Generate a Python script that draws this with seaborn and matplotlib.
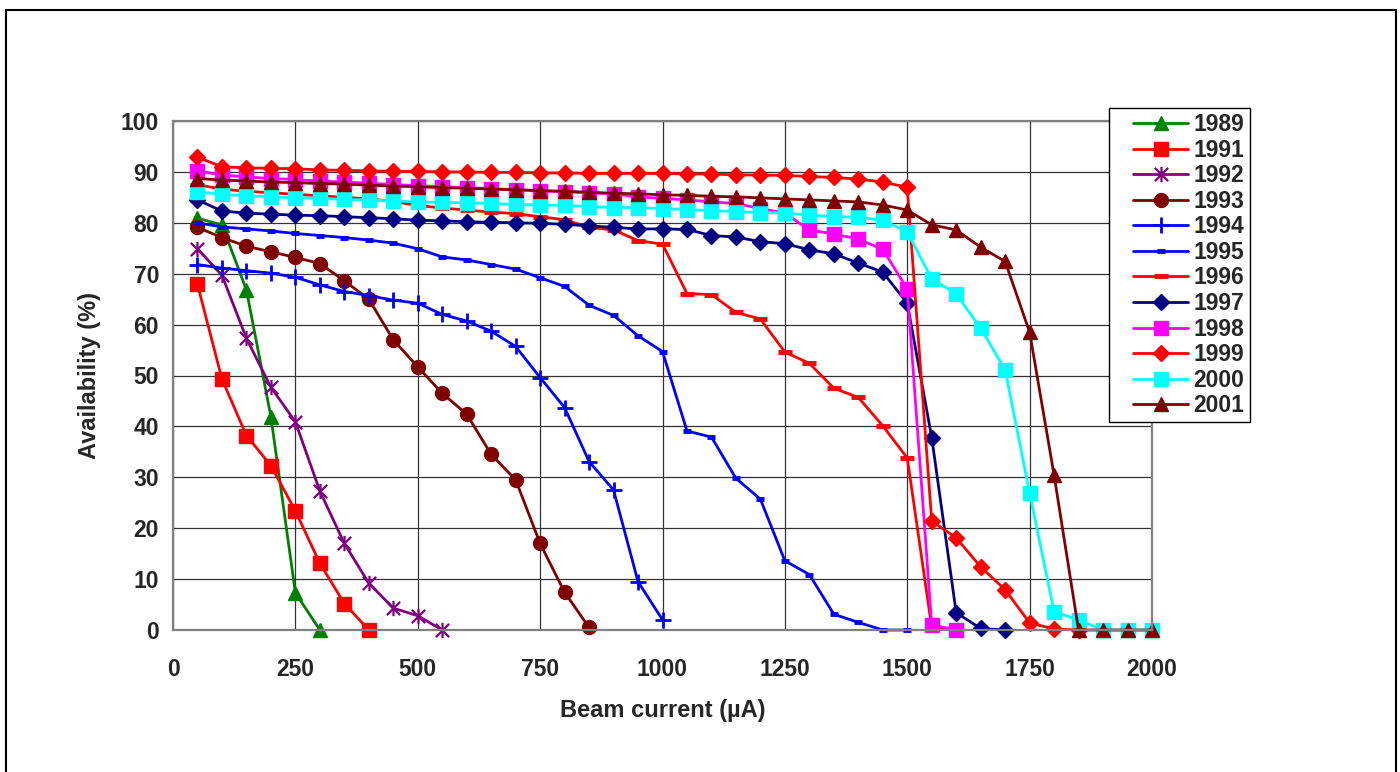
import matplotlib
matplotlib.use("Agg")
import matplotlib.pyplot as plt
from matplotlib.path import Path
from matplotlib.patches import Rectangle
import seaborn as sns
import pandas as pd

# ---------------- data ----------------
beam_current = [50, 100, 150, 200, 250, 300, 350, 400, 450, 500,
                550, 600, 650, 700, 750, 800, 850, 900, 950, 1000,
                1050, 1100, 1150, 1200, 1250, 1300, 1350, 1400, 1450, 1500,
                1550, 1600, 1650, 1700, 1750, 1800, 1850, 1900, 1950, 2000]

years = ["1989", "1991", "1992", "1993", "1994", "1995",
         "1996", "1997", "1998", "1999", "2000", "2001"]

avail_1989 = [80.9, 79.6, 66.8, 41.9, 7.3, 0.0]
avail_1991 = [67.9, 49.3, 38.2, 32.3, 23.4, 13.1, 5.2, 0.0]
avail_1992 = [74.9, 69.7, 57.3, 47.7, 40.9, 27.3, 17.0, 9.2, 4.3, 2.8, 0.0]
avail_1993 = [79.1, 77.1, 75.4, 74.3, 73.2, 72.0, 68.6, 65.0, 57.0, 51.7,
              46.5, 42.4, 34.5, 29.5, 17.0, 7.4, 0.5]
avail_1994 = [71.8, 71.1, 70.6, 70.1, 69.3, 67.8, 66.5, 65.7, 64.8, 64.2,
              62.0, 60.7, 58.7, 55.7, 49.6, 43.7, 33.1, 27.5, 9.5, 2.0]
avail_1995 = [80.0, 79.2, 78.8, 78.4, 77.9, 77.5, 77.1, 76.6, 76.0, 74.9,
              73.3, 72.7, 71.8, 70.9, 69.2, 67.5, 63.8, 61.8, 57.8, 54.7,
              39.1, 37.9, 29.8, 25.7, 13.6, 10.9, 3.1, 1.5, 0.0, 0.0]
avail_1996 = [87.5, 86.6, 86.2, 85.9, 85.6, 85.3, 85.0, 84.7, 84.2, 83.4,
              82.9, 82.5, 82.1, 81.8, 81.2, 80.6, 79.1, 78.6, 76.5, 75.8,
              66.1, 65.9, 62.4, 61.1, 54.6, 52.4, 47.5, 45.7, 40.1, 33.8,
              0.5, 0.0]
avail_1997 = [84.5, 82.3, 81.9, 81.7, 81.5, 81.4, 81.2, 81.0, 80.8, 80.5,
              80.4, 80.2, 80.1, 80.0, 79.9, 79.7, 79.4, 79.1, 78.8, 78.8,
              78.7, 77.5, 77.2, 76.3, 75.9, 74.7, 73.9, 72.1, 70.3, 64.2,
              37.8, 3.4, 0.3, 0.0]
avail_1998 = [90.2, 89.4, 89.0, 88.7, 88.5, 88.2, 88.0, 87.8, 87.5, 87.3,
              87.1, 86.9, 86.7, 86.5, 86.3, 86.1, 85.9, 85.7, 85.1, 84.8,
              84.5, 84.1, 83.8, 82.8, 81.9, 78.6, 77.8, 76.8, 74.8, 67.0,
              1.0, 0.0]
avail_1999 = [92.9, 91.0, 90.8, 90.7, 90.6, 90.4, 90.3, 90.2, 90.1, 90.1,
              90.0, 90.0, 89.9, 89.9, 89.8, 89.8, 89.7, 89.7, 89.7, 89.7,
              89.6, 89.6, 89.4, 89.4, 89.3, 89.1, 88.9, 88.6, 88.0, 87.0,
              21.4, 18.1, 12.4, 7.9, 1.4, 0.2, 0.0]
avail_2000 = [86.1, 85.6, 85.3, 85.1, 84.9, 84.8, 84.6, 84.5, 84.3, 84.1,
              84.0, 83.9, 83.8, 83.6, 83.5, 83.4, 83.2, 83.0, 83.0, 82.8,
              82.6, 82.4, 82.2, 82.0, 81.9, 81.5, 81.2, 81.1, 80.5, 78.2,
              69.0, 66.0, 59.3, 51.1, 26.9, 3.6, 2.0, 0.0, 0.0, 0.0]
avail_2001 = [88.7, 88.4, 88.2, 88.0, 87.9, 87.7, 87.6, 87.4, 87.2, 87.1,
              86.9, 86.8, 86.6, 86.5, 86.3, 86.2, 86.0, 85.8, 85.7, 85.5,
              85.4, 85.2, 85.1, 84.9, 84.7, 84.5, 84.3, 84.1, 83.5, 82.5,
              79.6, 78.6, 75.2, 72.4, 58.5, 30.4, 0.0, 0.0, 0.0, 0.0]

x_ticks = [0, 250, 500, 750, 1000, 1250, 1500, 1750, 2000]
y_ticks = [0, 10, 20, 30, 40, 50, 60, 70, 80, 90, 100]

series = [avail_1989, avail_1991, avail_1992, avail_1993, avail_1994, avail_1995,
          avail_1996, avail_1997, avail_1998, avail_1999, avail_2000, avail_2001]

rows = []
for yr, vals in zip(years, series):
    for xv, yv in zip(beam_current, vals):
        rows.append({"Year": yr, "Beam current": xv, "Availability": yv})
df = pd.DataFrame(rows)

# ---------------- styles ----------------
star = Path([[-1, -1], [1, 1], [-1, 1], [1, -1], [0, -1.15], [0, 1.15]],
            [Path.MOVETO, Path.LINETO, Path.MOVETO, Path.LINETO, Path.MOVETO, Path.LINETO])

styles = {
    "1989": dict(color="#008000", marker="^", ms=10.5, mew=1),
    "1991": dict(color="#FF0000", marker="s", ms=10, mew=1),
    "1992": dict(color="#800080", marker=star, ms=11, mew=1.6),
    "1993": dict(color="#800000", marker="o", ms=10, mew=1),
    "1994": dict(color="#0000FF", marker="+", ms=12, mew=2),
    "1995": dict(color="#0000FF", marker="_", ms=6, mew=3.5),
    "1996": dict(color="#FF0000", marker="_", ms=9.5, mew=3.5),
    "1997": dict(color="#000080", marker="D", ms=8, mew=1),
    "1998": dict(color="#FF00FF", marker="s", ms=10, mew=1),
    "1999": dict(color="#FF0000", marker="D", ms=8.5, mew=1),
    "2000": dict(color="#00FFFF", marker="s", ms=10, mew=1),
    "2001": dict(color="#800000", marker="^", ms=10.5, mew=1),
}

sns.set_style("white")
plt.rcParams["font.family"] = ["Liberation Sans", "DejaVu Sans"]
plt.rcParams["font.weight"] = "bold"

W, H = 1400, 772
fig = plt.figure(figsize=(W / 100, H / 100), dpi=100)
fig.patch.set_facecolor("white")
ax = fig.add_axes([173 / W, 1 - 630 / H, (1152 - 173) / W, (630 - 121) / H])

for yr in years:
    st = styles[yr]
    sub = df[df["Year"] == yr]
    sns.lineplot(data=sub, x="Beam current", y="Availability", ax=ax,
                 color=st["color"], marker=st["marker"], markersize=st["ms"],
                 markeredgewidth=st["mew"], markeredgecolor=st["color"],
                 markerfacecolor=st["color"], linewidth=2, label=yr,
                 estimator=None, clip_on=False)

ax.set_xlim(0, 2000)
ax.set_ylim(0, 100)
ax.set_xticks(x_ticks)
ax.set_yticks(y_ticks)
ax.grid(True, color="#333333", linewidth=0.9)
ax.set_axisbelow(True)
for sp in ax.spines.values():
    sp.set_visible(True)
    sp.set_color("#808080")
    sp.set_linewidth(1.6)

ax.tick_params(axis="both", which="major", direction="out", length=5, width=1,
               color="black", labelsize=16.5)
ax.tick_params(axis="x", pad=15)
ax.tick_params(axis="y", pad=5)
for lab in ax.get_xticklabels() + ax.get_yticklabels():
    lab.set_fontweight("bold")

ax.set_xlabel("Beam current (µA)", fontsize=17, fontweight="bold")
ax.set_ylabel("Availability (%)", fontsize=17, fontweight="bold")
ax.xaxis.set_label_coords(0.5, (630 - 699) / 509)
ax.yaxis.set_label_coords((101 - 173) / 979, 0.5)

handles, labels = ax.get_legend_handles_labels()
if ax.get_legend() is not None:
    ax.get_legend().remove()
leg = fig.legend(handles, labels, loc="upper left",
                 bbox_to_anchor=(1133 / W, 1 - 113 / H), bbox_transform=fig.transFigure,
                 frameon=False, borderpad=0, borderaxespad=0, labelspacing=0.112,
                 handlelength=2.4, handletextpad=0.22, numpoints=1,
                 prop={"weight": "bold", "size": 16.5})
leg.set_zorder(10)

# legend box (covers grid lines behind legend)
fig.patches.append(Rectangle((1109 / W, 1 - 422 / H), (1250 - 1109) / W, (422 - 108) / H,
                             transform=fig.transFigure, fill=True, facecolor="white",
                             edgecolor="black", linewidth=1.0, zorder=0.5))
# outer chart frame
fig.patches.append(Rectangle((5.5 / W, -0.05), (1396 - 5.5) / W, (1 - 10 / H) + 0.05,
                             transform=fig.transFigure, fill=False,
                             edgecolor="black", linewidth=1.5, zorder=0))

fig.savefig("out.png", dpi=100, facecolor="white")
